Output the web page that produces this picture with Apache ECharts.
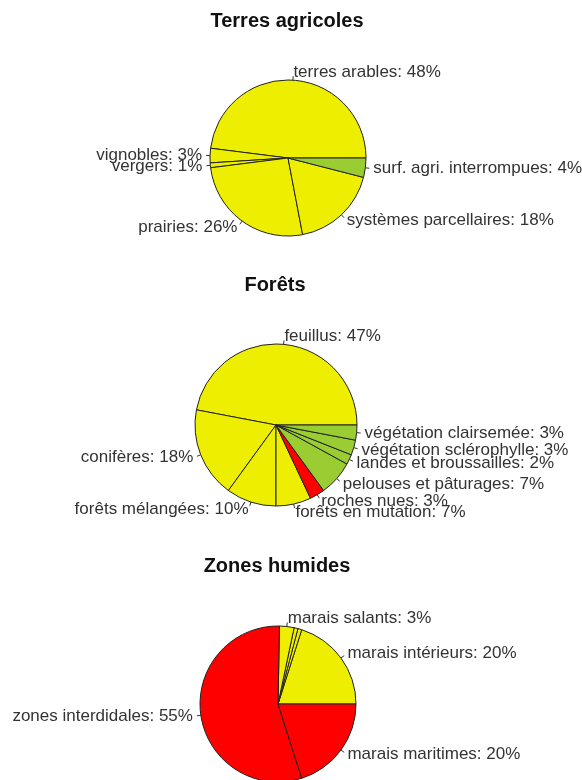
<!DOCTYPE html>
<html>
<head>
<meta charset="utf-8">
<script src="https://cdn.jsdelivr.net/npm/echarts@6/dist/echarts.min.js"></script>
<style>
html, body { margin: 0; padding: 0; background: #fff; }
#chart { width: 582px; height: 780px; }
</style>
</head>
<body>
<div id="chart"></div>
<script>
// Terres agricoles
var agriNoms = ['terres arables', 'vignobles', 'vergers', 'prairies', 'systèmes parcellaires', 'surf. agri. interrompues'];
var agriPct = [48, 3, 1, 26, 18, 4];

// Forêts
var foretNoms = ['feuillus', 'conifères', 'forêts mélangées', 'forêts en mutation', 'roches nues',
    'pelouses et pâturages', 'landes et broussailles', 'végétation sclérophylle', 'végétation clairsemée'];
var foretPct = [47, 18, 10, 7, 3, 7, 2, 3, 3];

// Zones humides (deux tranches très fines sans étiquette)
var humideNoms = ['marais intérieurs', '', '', 'marais salants', 'zones interdidales', 'marais maritimes'];
var humidePct = [20, 0.8, 0.8, 3, 55, 20];

// couleurs façon R
var JAUNE = '#eeee00', VERT = '#9acd32', ROUGE = '#ff0000';
var agriCouleurs = [JAUNE, JAUNE, JAUNE, JAUNE, JAUNE, VERT];
var foretCouleurs = [JAUNE, JAUNE, JAUNE, JAUNE, ROUGE, VERT, VERT, VERT, VERT];
var humideCouleurs = [JAUNE, JAUNE, JAUNE, JAUNE, ROUGE, ROUGE];

var police = '"Liberation Sans", Arial, sans-serif';

// texte à 1.1 r comme pie() de R, mais trait seulement jusqu'à 1.05 r
function placeEtiquette(p) {
    var pts = p.labelLinePoints;
    if (!pts) return { hideOverlap: false };
    var a = pts[0], b = pts[1];
    var m = [(a[0] + b[0]) / 2, (a[1] + b[1]) / 2];
    return { hideOverlap: false, labelLinePoints: [a, m, m] };
}

function camembert(noms, pct, couleurs, centre, rayon) {
    return {
        type: 'pie',
        center: centre,
        radius: rayon,
        startAngle: 0,
        clockwise: false,
        avoidLabelOverlap: false,
        silent: true,
        itemStyle: { borderColor: '#222', borderWidth: 1 },
        label: {
            show: true,
            position: 'outside',
            fontFamily: police,
            fontSize: 17,
            color: '#333',
            distanceToLabelLine: 0,
            formatter: function (p) { return p.name ? p.name + ': ' + p.value + '%' : ''; }
        },
        labelLine: {
            show: true,
            length: Math.round(rayon * 0.1),
            length2: 0,
            smooth: false,
            lineStyle: { color: '#333', width: 1 }
        },
        labelLayout: placeEtiquette,
        data: noms.map(function (n, i) {
            var d = { name: n, value: pct[i], itemStyle: { color: couleurs[i] } };
            if (!n) {
                d.label = { show: false };
                d.labelLine = { show: false };
            }
            return d;
        })
    };
}

function titre(texte, x, y) {
    return {
        text: texte,
        left: x,
        top: y,
        textAlign: 'center',
        padding: 0,
        textStyle: { fontFamily: police, fontSize: 20, fontWeight: 'bold', color: '#111' }
    };
}

var chart = echarts.init(document.getElementById('chart'));
chart.setOption({
    animation: false,
    backgroundColor: '#fff',
    title: [
        titre('Terres agricoles', 287, 11),
        titre('Forêts', 275, 275),
        titre('Zones humides', 277, 556)
    ],
    series: [
        camembert(agriNoms, agriPct, agriCouleurs, [288, 158], 78),
        camembert(foretNoms, foretPct, foretCouleurs, [276, 425], 81),
        camembert(humideNoms, humidePct, humideCouleurs, [278, 704], 78)
    ]
});
</script>
</body>
</html>
